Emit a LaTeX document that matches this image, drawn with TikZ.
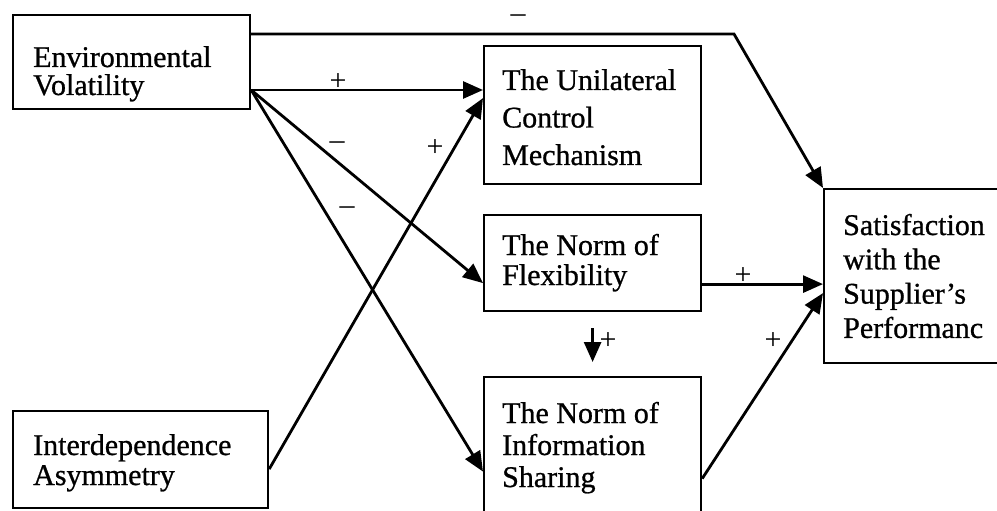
\documentclass[tikz,border=0pt]{standalone}
\usepackage{fontspec}
\setmainfont{Liberation Serif}
\newfontfamily\boxfont{Liberation Serif}[FakeBold=0.8]
\usetikzlibrary{arrows.meta}

\tikzset{
  box/.style={draw, line width=2.2pt, anchor=north west, inner sep=0pt},
  txt/.style={anchor=base west, inner sep=0pt, font=\fontsize{30}{30}\boxfont},
  sign/.style={inner sep=0pt, font=\fontsize{30}{30}\selectfont},
  arr/.style={line width=2.8pt, -{Triangle[length=20pt,width=17pt]}},
}
% stacked lines of text with a given line spacing
\newcommand\stacklines[2]{\vtop{\baselineskip=#1\lineskiplimit=-20pt\relax #2}}

\begin{document}
\begin{tikzpicture}[x=1pt,y=-1pt]
  \useasboundingbox (0,0) rectangle (997,511);
  \clip (0,0) rectangle (997,511);

  % boxes
  \node[box, minimum width=237pt, minimum height=94pt]  (env)   at (12,14)  {};
  \node[box, minimum width=217pt, minimum height=138pt] (uni)   at (483,45) {};
  \node[box, minimum width=217pt, minimum height=96pt]  (flex)  at (483,214) {};
  \node[box, minimum width=217pt, minimum height=136pt] (info)  at (483,376) {};
  \node[box, minimum width=255pt, minimum height=97pt]  (inter) at (12,410) {};
  \node[box, minimum width=190pt, minimum height=174pt] (sat)   at (823,188) {};

  % box texts
  \node[txt] (envT) at (33,67)
    {\stacklines{28pt}{\hbox{Environmental}\hbox{Volatility}}};
  \node[txt] (uniT) at (502,90)
    {\stacklines{37.5pt}{\hbox{The Unilateral}\hbox{Control}\hbox{Mechanism}}};
  \node[txt] (flexT) at (502,255)
    {\stacklines{30pt}{\hbox{The Norm of}\hbox{Flexibility}}};
  \node[txt] (infoT) at (502,423)
    {\stacklines{32pt}{\hbox{The Norm of}\hbox{Information}\hbox{Sharing}}};
  \node[txt] (interT) at (33,455)
    {\stacklines{30pt}{\hbox{Interdependence}\hbox{Asymmetry}}};
  \node[txt] (satT) at (843,235)
    {\stacklines{34.3pt}{\hbox{Satisfaction}\hbox{with the}\hbox{Supplier’s}\hbox{Performanc}}};

  % connector end points on the box edges
  \coordinate (evc)   at ([yshift=-76pt]env.north east);
  \coordinate (evtop) at ([yshift=-20pt]env.north east);
  \coordinate (elbow) at (734,34);

  % connectors
  \draw[arr] (evtop) -- (elbow) -- (sat.north west);
  \draw[arr] (evc) -- (evc -| uni.west);
  \draw[arr] (evc) -- ([yshift=-20pt]flex.west);
  \draw[arr] (evc) -- ([yshift=-26.5pt]info.west);
  \draw[arr] ([yshift=-9.5pt]inter.east) -- ([yshift=17pt]uni.west);
  \coordinate (fxo) at ([yshift=-21pt]flex.east);
  \draw[arr] (fxo) -- (fxo -| sat.west);
  \draw[arr] ([yshift=-33.5pt]info.east) -- ([yshift=-17pt]sat.west);
  \draw[arr, shorten <=16pt, shorten >=14pt] (flex.south) -- (info.north);

  % signs of the effects
  \node[sign] (s1) at (518,19)  {–};
  \node[sign] (s2) at (338,82)  {+};
  \node[sign] (s3) at (337,146) {–};
  \node[sign] (s4) at (435,148) {+};
  \node[sign] (s5) at (347,211) {–};
  \node[sign] (s6) at (743,276) {+};
  \node[sign] (s7) at (608,341) {+};
  \node[sign] (s8) at (773,341) {+};
\end{tikzpicture}
\end{document}
